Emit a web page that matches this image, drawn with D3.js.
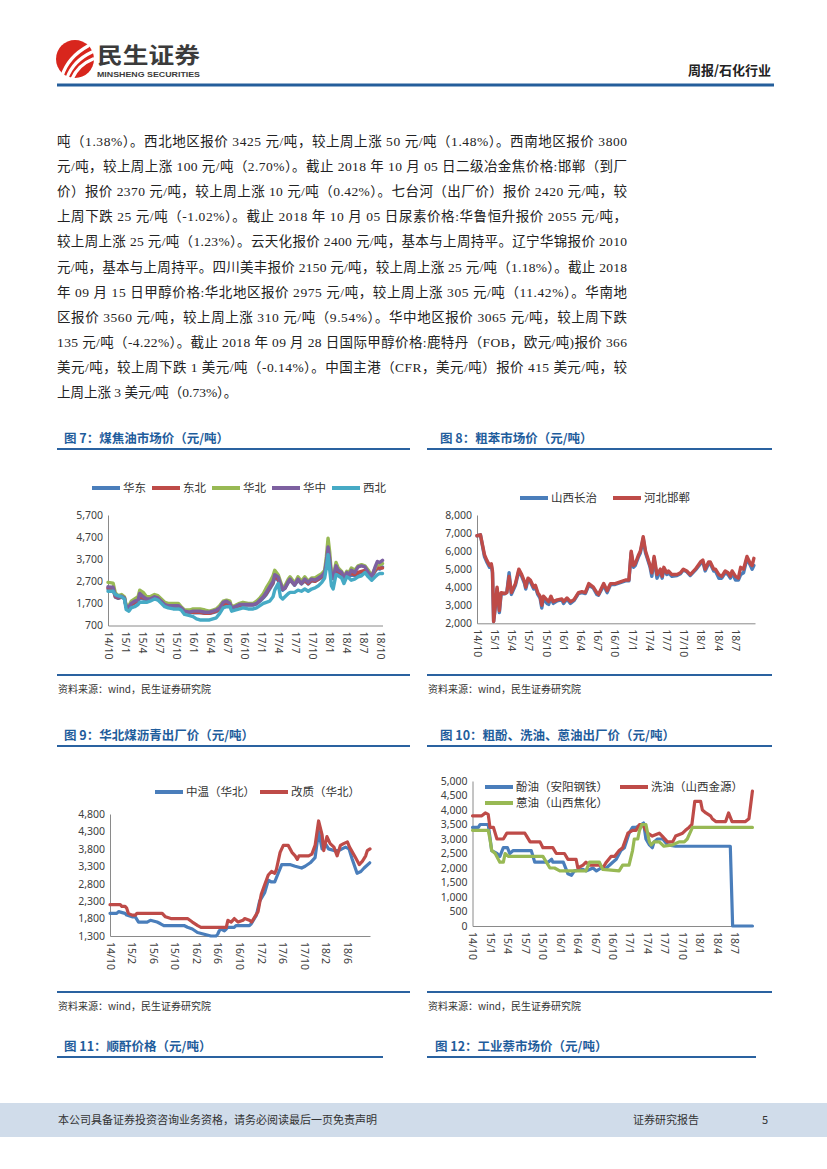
<!DOCTYPE html>
<html><head><meta charset="utf-8">
<script src="https://cdn.jsdelivr.net/npm/d3@7"></script>
<style>body{margin:0;background:#fff;} svg{display:block;}</style>
</head><body>
<svg id="page" width="827" height="1169"></svg>
<script>
// ---------------- DATA ----------------
const headerRight = "周报/石化行业";
const bodyLines = [
 "吨（1.38%）。西北地区报价 3425 元/吨，较上周上涨 50 元/吨（1.48%）。西南地区报价 3800",
 "元/吨，较上周上涨 100 元/吨（2.70%）。截止 2018 年 10 月 05 日二级冶金焦价格:邯郸（到厂",
 "价）报价 2370 元/吨，较上周上涨 10 元/吨（0.42%）。七台河（出厂价）报价 2420 元/吨，较",
 "上周下跌 25 元/吨（-1.02%）。截止 2018 年 10 月 05 日尿素价格:华鲁恒升报价 2055 元/吨，",
 "较上周上涨 25 元/吨（1.23%）。云天化报价 2400 元/吨，基本与上周持平。辽宁华锦报价 2010",
 "元/吨，基本与上周持平。四川美丰报价 2150 元/吨，较上周上涨 25 元/吨（1.18%）。截止 2018",
 "年 09 月 15 日甲醇价格:华北地区报价 2975 元/吨，较上周上涨 305 元/吨（11.42%）。华南地",
 "区报价 3560 元/吨，较上周上涨 310 元/吨（9.54%）。华中地区报价 3065 元/吨，较上周下跌",
 "135 元/吨（-4.22%）。截止 2018 年 09 月 28 日国际甲醇价格:鹿特丹（FOB，欧元/吨)报价 366",
 "美元/吨，较上周下跌 1 美元/吨（-0.14%）。中国主港（CFR，美元/吨）报价 415 美元/吨，较",
 "上周上涨 3 美元/吨（0.73%）。"
];
const sourceText = "资料来源：wind，民生证券研究院";
const footerLeft = "本公司具备证券投资咨询业务资格，请务必阅读最后一页免责声明";
const footerRight = "证券研究报告";
const pageNo = "5";

// Chart 7 煤焦油 (x = months since 2014-10)
const c7Title = "图 7：煤焦油市场价（元/吨）";
const c7Names = ["华东","东北","华北","华中","西北"];
const c7Months = [0,0.9,1.3,1.8,2.4,2.9,3.2,3.7,4.1,4.7,
 5.3,5.6,6.2,6.8,7.4,8.2,8.8,9.4,10,10.6,
 11.5,12.4,12.9,13.5,14.4,15,15.6,16.2,17.1,17.9,
 18.5,19.1,19.7,20.3,20.9,21.5,21.8,22.4,23.2,23.8,
 24.7,25.6,26.2,26.8,27.4,27.9,28.5,29.1,29.4,30,
 30.4,30.8,31.2,31.8,32.1,32.7,32.9,33.5,34.1,34.7,
 35.3,35.9,36.5,37.1,37.7,38.2,38.5,38.8,39.1,39.4,
 39.7,40.2,40.6,41.2,41.6,42.1,42.5,42.9,43.5,44.1,
 44.7,45.3,45.9,46.5,47.1,47.5,47.9,48.4];
const c7East = [2350,2330,1980,1930,1980,1920,1520,1520,1620,1720,
 1800,1950,1900,1880,1880,1950,1920,1780,1630,1580,
 1580,1550,1480,1330,1300,1280,1280,1280,1250,1250,
 1280,1330,1430,1620,1680,1650,1480,1530,1600,1630,
 1630,1620,1680,1800,1950,2100,2350,2600,2900,2750,
 2500,2300,2380,2650,2750,2580,2520,2750,2580,2720,
 2580,2720,2700,2780,2880,3000,3450,4050,3550,2880,
 2820,3250,3100,3000,2820,3000,2950,3000,2950,3050,
 3100,3150,3000,2900,3150,3300,3250,3350];
const c7NorthEast = [2400,2380,2000,1950,2000,1950,1550,1550,1650,1750,
 1850,2000,1950,1900,1900,1950,1950,1800,1650,1600,
 1600,1550,1500,1350,1300,1300,1300,1300,1250,1250,
 1300,1350,1450,1650,1700,1700,1500,1550,1600,1650,
 1650,1650,1700,1850,2000,2150,2400,2650,2950,2800,
 2550,2350,2400,2700,2800,2600,2550,2800,2600,2750,
 2600,2750,2700,2800,2900,3050,3500,4100,3600,2900,
 2850,3300,3150,3050,2850,3050,3000,3050,3000,3100,
 3150,3200,3050,2950,3200,3300,3300,3300];
const c7North = [2650,2620,2170,2050,2100,2000,1600,1600,1800,1900,
 2000,2300,2200,2000,2000,2100,2050,1900,1750,1700,
 1700,1700,1550,1400,1400,1450,1450,1450,1400,1350,
 1400,1450,1600,1800,1850,1800,1550,1600,1700,1750,
 1700,1700,1800,1950,2150,2400,2650,2950,3200,3000,
 2700,2400,2500,2800,2900,2700,2600,2900,2700,2900,
 2700,2850,2850,2950,3050,3200,3800,4650,4000,3000,
 2900,3550,3300,3150,2900,3150,3100,3300,3200,3400,
 3450,3400,3200,2950,3300,3500,3450,3500];
const c7Central = [2450,2430,2050,1980,2030,1950,1550,1550,1700,1800,
 1850,2150,2000,1900,1900,2000,1950,1800,1650,1600,
 1600,1600,1500,1350,1300,1350,1350,1350,1300,1300,
 1350,1400,1500,1750,1800,1700,1500,1550,1650,1650,
 1650,1650,1700,1850,2000,2200,2450,2700,3000,2900,
 2600,2350,2400,2700,2800,2600,2550,2800,2600,2800,
 2650,2800,2750,2850,2950,3100,3600,4250,3700,2950,
 2850,3400,3200,3100,2850,3100,3000,3200,3100,3350,
 3400,3350,3100,2900,3350,3600,3550,3650];
const c7NorthWest = [2250,2250,2100,2050,2000,1900,1420,1350,1500,1550,
 1650,1750,1750,1750,1800,1900,1850,1700,1550,1500,
 1450,1450,1400,1200,1150,1100,1000,950,950,950,
 1000,1050,1250,1500,1550,1550,1350,1400,1450,1500,
 1450,1450,1500,1600,1700,1750,1800,2000,2300,2600,
 2000,1900,2000,2150,2200,2200,2200,2300,2250,2350,
 2250,2350,2400,2500,2650,2850,3300,3900,3200,2500,
 2350,3000,2950,2850,2600,2900,2850,2750,2800,2900,
 2950,3100,2900,2750,2900,3000,3050,3050];
const c7YTicks = [700,1700,2700,3700,4700,5700];
const c7XTickMonths = [0,3,6,9,12,15,18,21,24,27,30,33,36,39,42,45,48];
const c7XLabels = ["14/10","15/1","15/4","15/7","15/10","16/1","16/4","16/7","16/10","17/1","17/4","17/7","17/10","18/1","18/4","18/7","18/10"];

// Chart 8 粗苯
const c8Title = "图 8：粗苯市场价（元/吨）";
const c8Names = ["山西长治","河北邯郸"];
const c8Months = [0,0.6,1.3,1.7,2.2,2.5,2.7,2.9,3.2,3.5,
 3.9,4.2,4.9,5.2,5.6,6.0,6.7,7.3,7.8,8.3,
 8.5,8.9,9.3,9.9,10.2,10.6,11.0,11.3,11.6,12.2,
 12.5,12.9,13.3,14.0,14.8,15.1,15.7,16.3,16.9,17.7,
 18.3,18.9,19.5,20.3,20.9,21.2,22.1,22.7,23.3,24.1,
 25.0,25.9,26.5,26.9,27.3,27.6,28.2,28.5,29.0,29.4,
 29.7,30.2,30.5,30.9,31.4,32.0,32.3,32.6,33.1,33.4,
 34.0,34.9,35.5,36.0,36.6,37.2,38.1,39.0,39.4,39.8,
 40.4,40.7,41.3,41.6,42.2,42.7,43.3,43.8,44.2,44.5,
 45.1,45.6,46.0,46.5,47.1,47.7,48.0,48.3];
const c8Changzhi = [6850,6900,5700,5400,5100,5200,4800,2100,2900,3900,
 2600,3600,3650,3700,4800,3600,4100,4900,4600,4200,
 3900,4400,4300,3900,4000,3600,3400,2850,3400,3100,
 3050,3400,3100,3250,3300,3100,3350,3100,3250,3650,
 3700,3650,4100,3950,3600,3550,4100,3700,4150,4150,
 4250,4350,4350,5900,5100,5200,5700,5900,6700,5900,
 5600,5100,4600,5600,4500,4900,4500,5000,4700,4800,
 4600,4650,4750,4950,4850,4650,4950,5300,5400,4900,
 5300,5300,4900,4900,4500,4500,4800,4700,4500,4800,
 4400,4400,4700,4800,5600,5200,5000,5200];
const c8Handan = [6850,6900,5800,5500,5200,5300,4900,2100,3000,4000,
 2700,3700,3650,3700,4600,3700,4200,5000,4700,4300,
 4000,4500,4400,4000,4100,3700,3500,3000,3500,3300,
 3200,3500,3200,3300,3350,3200,3400,3200,3300,3700,
 3750,3700,4200,4000,3700,3600,4200,3800,4200,4200,
 4300,4400,4400,6000,5200,5300,5800,6000,6800,6000,
 5700,5200,4800,5700,4700,5000,4600,5100,4800,4900,
 4700,4700,4800,5000,4900,4700,5000,5400,5500,5000,
 5400,5400,5000,5000,4700,4600,4900,4800,4600,4900,
 4600,4500,5100,5000,5700,5300,5200,5600];
const c8YTicks = [2000,3000,4000,5000,6000,7000,8000];
const c8XTickMonths = [0,3,6,9,12,15,18,21,24,27,30,33,36,39,42,45];
const c8XLabels = ["14/10","15/1","15/4","15/7","15/10","16/1","16/4","16/7","16/10","17/1","17/4","17/7","17/10","18/1","18/4","18/7"];

// Chart 9 煤沥青 ([month, value])
const c9Title = "图 9：华北煤沥青出厂价（元/吨）";
const c9Names = ["中温（华北）","改质（华北）"];
const c9MidTemp = [[0,1950],[1.25,1950],[1.6,2000],[2.8,1950],[3.1,1900],[4.1,1850],[4.7,1850],[5.3,1700],
 [6.9,1700],[7.5,1750],[8.75,1700],[9.4,1650],[10,1600],[13.75,1600],[14.4,1550],[15.3,1500],[16.25,1400],
 [17.5,1350],[18.75,1300],[19.7,1300],[20,1350],[20.3,1450],[20.6,1500],[21.25,1450],[21.6,1500],[21.9,1550],
 [23.1,1550],[23.4,1600],[25.9,1600],[26.25,1650],[27.2,1900],[27.8,2300],[28.75,2550],[29.4,2900],[30,2850],
 [30.6,2850],[31.25,3100],[31.9,3350],[33.4,3350],[34.4,3300],[35.6,3250],[36.25,3300],[37.2,3400],[38.1,3550],
 [38.75,4300],[39.4,3800],[40,3950],[40.6,3800],[41.6,3750],[42.5,3750],[43.1,3800],[43.75,3850],[44.4,3800],
 [45,3500],[45.9,3100],[46.6,3150],[47.2,3250],[48.25,3400]];
const c9Modified = [[0,2200],[1.9,2200],[2.2,2150],[2.8,2150],[3.1,2100],[3.4,1950],[4.1,1900],[4.7,1900],
 [5,1950],[9.7,1950],[10.3,1850],[11.3,1800],[14.4,1800],[15.3,1700],[16.3,1600],[16.9,1550],[21.6,1550],
 [21.9,1750],[22.5,1700],[23.1,1800],[23.8,1700],[24.7,1750],[25,1800],[25.9,1750],[26.3,1700],[26.9,1850],
 [27.5,2000],[28.1,2500],[28.8,2800],[29.4,3050],[30,3150],[30.6,3100],[30.9,3200],[31.6,3700],[32.2,3900],
 [33.1,3900],[33.8,3700],[34.4,3600],[34.8,3500],[35.1,3600],[36.9,3600],[37.5,3650],[38.1,3900],[38.75,4600],
 [39.4,4200],[39.7,3750],[40.3,4150],[40.9,3950],[41.6,3850],[42.2,3600],[42.8,3900],[43.4,3950],[44.1,4000],
 [44.5,3850],[45.6,3550],[46.3,3350],[46.9,3450],[47.5,3600],[47.8,3750],[48.3,3800]];
const c9YTicks = [1300,1800,2300,2800,3300,3800,4300,4800];
const c9XTickMonths = [0,4,8,12,16,20,24,28,32,36,40,44];
const c9XLabels = ["14/10","15/2","15/6","15/10","16/2","16/6","16/10","17/2","17/6","17/10","18/2","18/6"];

// Chart 10 粗酚/洗油/蒽油 ([month, value])
const c10Title = "图 10：粗酚、洗油、蒽油出厂价（元/吨）";
const c10Names = ["酚油（安阳钢铁）","洗油（山西金源）","蒽油（山西焦化）"];
const c10Phenol = [[0,3400],[1,3400],[1.3,3500],[2.7,3500],[3.3,2600],[4.2,2500],[4.7,2400],[5.3,2700],[6,2700],
 [6.4,2500],[7,2600],[10.1,2600],[10.7,2200],[13,2200],[13.6,2300],[13.8,2200],[15.6,2200],[16.4,1800],[17,1750],
 [17.5,1900],[19,1950],[19.5,1900],[20.7,2000],[21.3,1900],[22.1,2000],[23,2000],[24.1,2200],[24.7,2300],[25.5,2600],
 [26.1,2700],[26.9,3200],[27.5,3400],[28.1,3400],[29,3500],[29.4,3550],[29.8,3000],[30.4,2800],[30.9,2700],[31.2,2900],
 [31.8,3000],[32.7,3000],[33.5,2800],[34.9,2750],[44.3,2750],[44.7,0],[48.1,0]];
const c10WashOil = [[0,3800],[1.6,3800],[2.2,3900],[2.7,3850],[3,3400],[3.6,3400],[4.2,3000],[5.3,3000],[5.9,3200],
 [9,3200],[9.3,3100],[9.9,2900],[11.6,2900],[12.1,2700],[13.8,2700],[14.4,2500],[15.8,2500],[16.4,2300],[17.8,2300],
 [18.1,2000],[19,2100],[19.5,2200],[20.1,2100],[21.8,2100],[22.4,2000],[23,2200],[23.8,2400],[24.4,2400],[25.2,2600],
 [25.8,2700],[26.7,3200],[27.5,3300],[28.1,3300],[28.7,3500],[29.2,3500],[30.1,3200],[30.9,3100],[32.1,3200],
 [32.6,3100],[33.5,2900],[34.4,2900],[34.9,3100],[36.1,3200],[36.6,3300],[37.2,3400],[37.7,3500],[38.2,4300],
 [39.2,4300],[39.5,4000],[40.1,3900],[40.9,3800],[41.2,3700],[41.8,3600],[43.5,3600],[44,3900],[44.6,3600],
 [46.9,3600],[47.5,3700],[48.1,4650]];
const c10Anthracene = [[0,3300],[2.7,3300],[3,3000],[3.3,2600],[3.9,2500],[4.7,2200],[5.3,2200],[5.6,2500],
 [6.2,2400],[12.1,2400],[13.3,2000],[14.1,2000],[15,1900],[19.5,1900],[20.1,2200],[21.8,2200],[22.4,1950],
 [25.2,1900],[25.8,2100],[26.9,2100],[27.5,2600],[27.8,3000],[28.4,3000],[28.7,3300],[29.1,3500],[29.8,3500],
 [30.4,2900],[30.7,2800],[31.2,2900],[32.1,2900],[32.9,2750],[34.4,2800],[35.5,2900],[36.4,2900],[36.9,3000],
 [37.8,3400],[48.1,3400]];
const c10YTicks = [0,500,1000,1500,2000,2500,3000,3500,4000,4500,5000];
const c10XTickMonths = [0,3,6,9,12,15,18,21,24,27,30,33,36,39,42,45];
const c10XLabels = ["14/10","15/1","15/4","15/7","15/10","16/1","16/4","16/7","16/10","17/1","17/4","17/7","17/10","18/1","18/4","18/7"];

const c11Title = "图 11：顺酐价格（元/吨）";
const c12Title = "图 12：工业萘市场价（元/吨）";

// ---------------- STYLE ----------------
const C = {blue:"#4a7ebb", red:"#be4b48", green:"#98b954", purple:"#7d60a0", cyan:"#46aac5"};
const cjk = "'Noto Sans CJK SC'";
const serifFont = "'Liberation Serif','Noto Sans CJK SC'";
const tickFont = "'Noto Sans','Noto Sans CJK SC'";
const titleBlue = "#1f5d9c";
const axisColor = "#8a8a8a";

const svg = d3.select("#page");

// ---------------- HEADER ----------------
const logo = svg.append("g");
logo.append("circle").attr("cx",75).attr("cy",59).attr("r",19).attr("fill","#d8261d");
[[62,76,88,46],[67,78,92,52],[72,79,93,59]].forEach(p=>{
  logo.append("path").attr("d",`M${p[0]},${p[1]} Q${p[0]+6},${(p[1]+p[3])/2-4} ${p[2]},${p[3]}`)
   .attr("fill","none").attr("stroke","#fff").attr("stroke-width",3.2).attr("stroke-linecap","round");
});
svg.append("text").attr("x",97).attr("y",63).text("民生证券")
  .attr("font-family",cjk).attr("font-weight",700).attr("font-size",22).attr("fill","#3b3b3b")
  .attr("textLength",103).attr("lengthAdjust","spacingAndGlyphs");
svg.append("text").attr("x",97).attr("y",77).text("MINSHENG SECURITIES")
  .attr("font-family","'Liberation Sans'").attr("font-weight",700).attr("font-size",8).attr("fill","#3b3b3b")
  .attr("textLength",103).attr("lengthAdjust","spacingAndGlyphs");
svg.append("text").attr("x",771).attr("y",75).attr("text-anchor","end").text(headerRight)
  .attr("font-family",cjk).attr("font-weight",700).attr("font-size",13).attr("fill","#222");
svg.append("line").attr("x1",57).attr("x2",774).attr("y1",85).attr("y2",85).attr("stroke","#245e9b").attr("stroke-width",3);

// ---------------- BODY ----------------
bodyLines.forEach((t,i)=>{
  const tx = svg.append("text").attr("x",57).attr("y",146+i*25.1).text(t)
    .attr("font-family",serifFont).attr("font-size",13.5).attr("fill","#222");
  if (i < bodyLines.length-1) tx.attr("textLength",570).attr("lengthAdjust","spacing");
});

// ---------------- HELPERS ----------------
function titleBlock(text, tx, ty, lx1, lx2) {
  svg.append("text").attr("x",tx).attr("y",ty).text(text)
    .attr("font-family",cjk).attr("font-weight",700).attr("font-size",12.5).attr("fill",titleBlue);
  svg.append("line").attr("x1",lx1).attr("x2",lx2).attr("y1",ty+6).attr("y2",ty+6)
    .attr("stroke","#2a62a0").attr("stroke-width",2);
}
function sourceBlock(ly, lx1, lx2) {
  svg.append("line").attr("x1",lx1).attr("x2",lx2).attr("y1",ly).attr("y2",ly)
    .attr("stroke","#2a62a0").attr("stroke-width",2);
  svg.append("text").attr("x",lx1+1).attr("y",ly+18).text(sourceText)
    .attr("font-family",cjk).attr("font-size",10).attr("fill","#333");
}
function legendItem(lx, ly, color, name) {
  svg.append("line").attr("x1",lx).attr("x2",lx+28).attr("y1",ly).attr("y2",ly)
    .attr("stroke",color).attr("stroke-width",4);
  svg.append("text").attr("x",lx+31).attr("y",ly+4).text(name)
    .attr("font-family",cjk).attr("font-size",11.5).attr("fill","#333");
}
let clipId = 0;
function drawChart(o) {
  const x = d3.scaleLinear().domain(o.xDomain).range([o.left, o.right]);
  const y = d3.scaleLinear().domain(o.yDomain).range([o.bottom, o.top]);
  const g = svg.append("g");
  const ya = g.append("g").attr("transform",`translate(${o.left},0)`)
    .call(d3.axisLeft(y).tickValues(o.yTicks).tickSize(0).tickPadding(5).tickFormat(d3.format(",")));
  ya.attr("font-family",tickFont).attr("font-size",10.5);
  ya.select(".domain").attr("stroke",axisColor);
  ya.selectAll(".tick text").attr("fill","#404040");
  let holder = g.append("g");
  if (o.clipBottom) {
    const id = "clip" + (clipId++);
    svg.append("clipPath").attr("id",id).append("rect").attr("x",0).attr("y",0).attr("width",827).attr("height",o.clipBottom);
    holder.attr("clip-path",`url(#${id})`);
  }
  const xa = holder.append("g").attr("transform",`translate(0,${o.bottom})`)
    .call(d3.axisBottom(x).tickValues(o.xTicks).tickSize(0).tickFormat((d,i)=>o.xLabels[i]));
  xa.attr("font-family",tickFont).attr("font-size",10.5);
  xa.select(".domain").attr("stroke",axisColor);
  xa.selectAll(".tick text").attr("y",0).attr("x",6).attr("dy","0.35em")
    .attr("transform","rotate(90)").attr("text-anchor","start").attr("fill","#404040");
  const line = d3.line().x(d=>x(d[0])).y(d=>y(d[1]));
  o.series.forEach(s=>{
    g.append("path").datum(s.pts).attr("d",line).attr("fill","none").attr("stroke",s.color)
      .attr("stroke-width",o.sw).attr("stroke-linejoin","round").attr("stroke-linecap","round");
  });
}
const zipPts = (ms, vs) => ms.map((m,i)=>[m, vs[i]]).filter(d=>d[1]!==undefined);

// ---------------- CHART 7 ----------------
titleBlock(c7Title, 64, 443, 57, 410);
const c7Colors = [C.blue, C.red, C.green, C.purple, C.cyan];
[92,152,212,272,332].forEach((lx,i)=>legendItem(lx, 488, c7Colors[i], c7Names[i]));
drawChart({left:108, right:382.5, top:515, bottom:625.5, xDomain:[0,48.4], yDomain:[700,5700],
  yTicks:c7YTicks, xTicks:c7XTickMonths, xLabels:c7XLabels, sw:3.4,
  series:[
    {color:C.blue, pts:zipPts(c7Months,c7East)},
    {color:C.red, pts:zipPts(c7Months,c7NorthEast)},
    {color:C.green, pts:zipPts(c7Months,c7North)},
    {color:C.purple, pts:zipPts(c7Months,c7Central)},
    {color:C.cyan, pts:zipPts(c7Months,c7NorthWest)}
  ]});
sourceBlock(675, 57, 410);

// ---------------- CHART 8 ----------------
titleBlock(c8Title, 440, 443, 427, 772);
legendItem(520, 498, C.blue, c8Names[0]);
legendItem(613, 498, C.red, c8Names[1]);
drawChart({left:477, right:755, top:515, bottom:623.3, xDomain:[0,48.5], yDomain:[2000,8000],
  yTicks:c8YTicks, xTicks:c8XTickMonths, xLabels:c8XLabels, sw:3.4,
  series:[
    {color:C.blue, pts:zipPts(c8Months,c8Changzhi)},
    {color:C.red, pts:zipPts(c8Months,c8Handan)}
  ]});
sourceBlock(675, 427, 772);

// ---------------- CHART 9 ----------------
titleBlock(c9Title, 64, 740, 57, 410);
legendItem(155, 792, C.blue, c9Names[0]);
legendItem(260, 792, C.red, c9Names[1]);
drawChart({left:110, right:370, top:814, bottom:936, xDomain:[0,48.3], yDomain:[1300,4800],
  yTicks:c9YTicks, xTicks:c9XTickMonths, xLabels:c9XLabels, sw:3.2, clipBottom:972,
  series:[
    {color:C.blue, pts:c9MidTemp},
    {color:C.red, pts:c9Modified}
  ]});
sourceBlock(992, 57, 410);

// ---------------- CHART 10 ----------------
titleBlock(c10Title, 440, 740, 427, 772);
drawChart({left:472.5, right:753, top:781, bottom:926, xDomain:[0,48.2], yDomain:[0,5000],
  yTicks:c10YTicks, xTicks:c10XTickMonths, xLabels:c10XLabels, sw:3.2,
  series:[
    {color:C.blue, pts:c10Phenol},
    {color:C.red, pts:c10WashOil},
    {color:C.green, pts:c10Anthracene}
  ]});
legendItem(485, 787, C.blue, c10Names[0]);
legendItem(620, 787, C.red, c10Names[1]);
legendItem(485, 803, C.green, c10Names[2]);
sourceBlock(992, 427, 772);

// ---------------- CHART 11 / 12 TITLES ----------------
titleBlock(c11Title, 64, 1051, 57, 383);
titleBlock(c12Title, 435, 1051, 427, 756);

// ---------------- FOOTER ----------------
svg.append("rect").attr("x",0).attr("y",1103).attr("width",827).attr("height",34).attr("fill","#d0dcea");
svg.append("text").attr("x",58).attr("y",1124).text(footerLeft)
  .attr("font-family",cjk).attr("font-size",11).attr("fill","#333");
svg.append("text").attr("x",633).attr("y",1124).text(footerRight)
  .attr("font-family",cjk).attr("font-size",11).attr("fill","#333");
svg.append("text").attr("x",762).attr("y",1124).text(pageNo)
  .attr("font-family",cjk).attr("font-size",11).attr("fill","#333");
</script></body></html>
